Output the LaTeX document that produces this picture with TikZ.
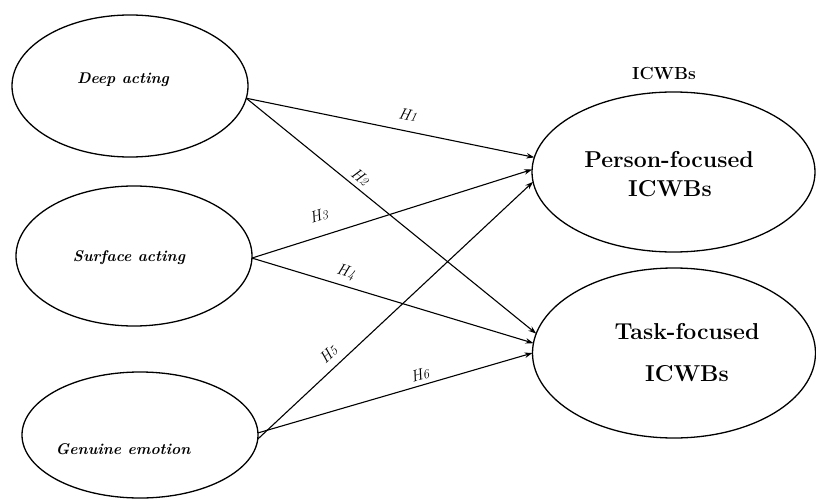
\documentclass[tikz,border=0pt]{standalone}
\usepackage{fontspec}
\usetikzlibrary{shapes.geometric,arrows.meta}
\newcommand\hlabtxt[1]{H{\fontsize{13}{15}\selectfont #1}}
\begin{document}
\begin{tikzpicture}[x=1pt,y=-1pt,
  oval/.style={draw, ellipse, line width=1.3pt, inner sep=0pt, outer sep=0pt},
  link/.style={line width=1.1pt, -{Stealth[length=8pt,width=5.5pt]}},
  hlab/.style={font=\fontsize{16}{18}\selectfont\itshape, sloped, inner sep=1pt},
  ital/.style={font=\fontsize{15.5}{18}\selectfont\bfseries\itshape, inner sep=0pt},
  big/.style={font=\fontsize{23}{26}\selectfont\bfseries, inner sep=0pt}
]
\useasboundingbox (0,0) rectangle (816,500);
% ellipses
\node[oval, minimum width=236pt, minimum height=142pt] (deep) at (130,86) {};
\node[oval, minimum width=236pt, minimum height=140pt] (surf) at (134,256) {};
\node[oval, minimum width=236pt, minimum height=126pt] (gen) at (140,435) {};
\node[oval, minimum width=283pt, minimum height=160pt] (pers) at (673.5,172) {};
\node[oval, minimum width=283pt, minimum height=170pt] (task) at (674,353) {};
% texts
\node[ital] (tdeep) at (123,80) {Deep acting};
\node[ital] (tsurf) at (129,258) {Surface acting};
\node[ital] (tgen) at (123,449) {Genuine emotion};
\node[big] (tpers1) at (669,160) {Person-focused};
\node[big] (tpers2) at (670,189) {ICWBs};
\node[big] (ttask1) at (687,332) {Task-focused};
\node[big] (ttask2) at (687,374) {ICWBs};
\node[font=\fontsize{17.5}{20}\selectfont\bfseries, inner sep=0pt] (top) at (664,73) {ICWBs};
% arrows
\draw[link] (deep.-6) -- node[hlab, pos=0.55, above=9pt] (h1) {\hlabtxt{1}} (pers.174);
\draw[link] (deep.-6) -- node[hlab, pos=0.37, above=3.5pt] (h2) {\hlabtxt{2}} (task.172.3);
\draw[link] (surf.-1) -- node[hlab, pos=0.26, above=13pt] (h3) {\hlabtxt{3}} (pers.179);
\draw[link] (surf.-1) -- node[hlab, pos=0.32, above=5pt] (h4) {\hlabtxt{4}} (task.176);
\draw[link] (gen.-2) -- node[hlab, pos=0.29, above=6.5pt] (h5) {\hlabtxt{5}} (pers.184.5);
\draw[link] (gen.1) -- node[hlab, pos=0.6, above=3pt] (h6) {\hlabtxt{6}} (task.180);
\end{tikzpicture}
\end{document}
